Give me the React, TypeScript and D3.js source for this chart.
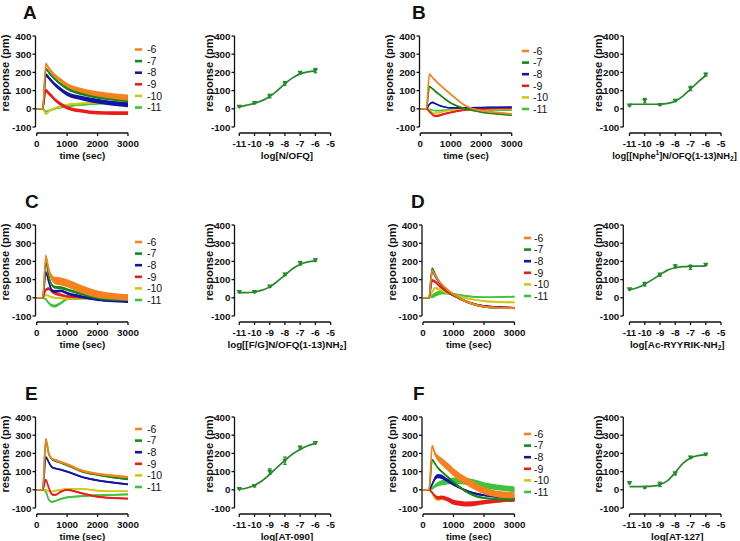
import React from "react";
import * as d3 from "d3";

// ---------- shared data ----------
const TIMES = [0, 200, 300, 400, 500, 600, 800, 1000, 1500, 2000, 2500, 3000];
const CONCS = ["-6", "-7", "-8", "-9", "-10", "-11"];
const SERIES_COLORS = ["#F5821F", "#168A16", "#1414A8", "#EC1C1C", "#D2C814", "#3CC43C"];
const Y_TICKS = [-100, 0, 100, 200, 300, 400];
const TIME_TICKS = [0, 1000, 2000, 3000];
const LOG_TICKS = [-11, -10, -9, -8, -7, -6, -5];
const DOSE_X = [-11, -10, -9, -8, -7, -6];
const FIT_X = [-11, -10.5, -10, -9.5, -9, -8.5, -8, -7.5, -7, -6.5, -6];

// ---------- panel A (N/OFQ) ----------
const A_MEAN = [
  [0, 0, 245, 222, 200, 182, 155, 130, 100, 82, 70, 62],
  [0, 0, 218, 200, 180, 163, 135, 112, 82, 64, 53, 46],
  [0, 0, 185, 170, 150, 133, 105, 82, 58, 42, 30, 22],
  [0, 0, 100, 85, 68, 50, 25, 6, -12, -22, -24, -24],
  [0, 0, -28, -14, -4, 4, 14, 22, 30, 35, 38, 40],
  [0, 0, -15, -10, -5, 0, 7, 13, 22, 28, 32, 35],
];
const A_SEM = [
  [1, 1, 10, 10, 10, 10, 11, 12, 13, 14, 15, 16],
  [1, 1, 8, 8, 8, 8, 8, 9, 9, 9, 9, 9],
  [1, 1, 10, 10, 10, 10, 11, 12, 12, 13, 13, 14],
  [1, 1, 10, 10, 10, 10, 10, 10, 10, 10, 10, 10],
  [1, 1, 6, 6, 6, 5, 5, 5, 5, 5, 5, 5],
  [1, 1, 4, 4, 4, 4, 4, 4, 4, 4, 4, 4],
];
const A_FIT = [12, 20, 30, 45, 68, 100, 138, 170, 192, 203, 208];
const A_PTS = [12, 33, 70, 140, 198, 210];
const A_ERR = [3, 6, 10, 10, 6, 12];

// ---------- panel B ([Nphe1]N/OFQ(1-13)NH2) ----------
const B_MEAN = [
  [0, 0, 190, 172, 155, 138, 108, 80, 15, -10, -20, -28],
  [0, 0, 122, 110, 95, 82, 55, 32, 0, -18, -28, -35],
  [0, 0, 25, 35, 28, 20, 10, 5, 5, 7, 8, 9],
  [0, 0, -15, -32, -40, -38, -28, -20, -6, 0, 2, 2],
  [0, 0, -8, -22, -25, -22, -14, -8, -2, 0, 0, 0],
  [0, 0, -3, -8, -10, -10, -8, -6, -4, -5, -6, -7],
];
const B_SEM = [
  [0.5, 0.5, 3, 3, 3, 3, 3, 3, 3, 3, 3, 3],
  [0.5, 0.5, 3, 3, 3, 3, 3, 3, 3, 3, 3, 3],
  [0.5, 0.5, 3, 4, 3, 3, 3, 3, 3, 3, 3, 3],
  [0.5, 0.5, 4, 5, 6, 6, 5, 4, 3, 3, 3, 3],
  [0.5, 0.5, 3, 4, 4, 3, 3, 3, 3, 3, 3, 3],
  [0.5, 0.5, 3, 3, 3, 3, 3, 3, 3, 3, 3, 3],
];
const B_FIT = [25, 25, 25, 25, 26, 30, 42, 70, 108, 148, 183];
const B_PTS = [18, 45, 22, 45, 112, 188];
const B_ERR = [3, 12, 3, 5, 12, 8];

// ---------- panel C ([F/G]N/OFQ(1-13)NH2) ----------
const C_MEAN = [
  [0, 0, 228, 150, 110, 95, 90, 80, 45, 20, 8, 2],
  [0, 0, 195, 115, 70, 58, 55, 45, 20, 0, -8, -10],
  [0, 0, 140, 85, 40, 35, 38, 25, 5, -10, -17, -20],
  [0, 0, 45, 50, 35, 25, 15, 8, 2, 3, 8, 12],
  [0, 0, 15, 10, 3, 0, -3, -4, -3, -2, -2, -2],
  [0, 0, -8, -30, -42, -45, -28, -8, -4, -5, -5, -5],
];
const C_SEM = [
  [1, 1, 12, 16, 18, 20, 22, 22, 22, 20, 18, 18],
  [1, 1, 8, 8, 8, 8, 8, 8, 8, 8, 8, 8],
  [1, 1, 8, 8, 8, 8, 8, 8, 8, 8, 8, 8],
  [1, 1, 8, 8, 8, 8, 8, 6, 6, 6, 6, 6],
  [1, 1, 5, 5, 5, 5, 5, 5, 5, 5, 5, 5],
  [1, 1, 5, 7, 8, 8, 7, 5, 4, 4, 4, 4],
];
const C_FIT = [28, 28, 32, 42, 60, 90, 125, 160, 183, 197, 203];
const C_PTS = [33, 32, 62, 128, 190, 207];
const C_ERR = [5, 4, 5, 6, 10, 6];

// ---------- panel D (Ac-RYYRIK-NH2) ----------
const D_MEAN = [
  [0, 0, 150, 122, 97, 77, 45, 20, -25, -48, -55, -58],
  [0, 0, 162, 128, 98, 74, 40, 15, -28, -50, -55, -55],
  [0, 0, 148, 118, 92, 72, 42, 18, -25, -46, -52, -55],
  [0, 0, 95, 88, 72, 57, 32, 12, -25, -45, -52, -55],
  [0, 0, 30, 55, 48, 40, 27, 16, -5, -18, -23, -25],
  [0, 0, 8, 18, 25, 28, 26, 20, 8, 3, 4, 7],
];
const D_SEM = [
  [1, 1, 6, 6, 6, 6, 6, 6, 5, 5, 5, 5],
  [1, 1, 4, 4, 4, 4, 4, 4, 4, 4, 4, 4],
  [1, 1, 4, 4, 4, 4, 4, 4, 4, 4, 4, 4],
  [1, 1, 8, 8, 8, 8, 7, 6, 5, 5, 5, 5],
  [1, 1, 6, 6, 6, 6, 6, 6, 5, 5, 5, 5],
  [1, 1, 10, 12, 12, 10, 8, 6, 4, 4, 4, 4],
];
const D_FIT = [45, 55, 75, 100, 127, 152, 165, 171, 173, 174, 175];
const D_PTS = [47, 75, 127, 173, 168, 182];
const D_ERR = [4, 10, 8, 8, 12, 4];

// ---------- panel E (AT-090) ----------
const E_MEAN = [
  [0, 0, 280, 200, 172, 165, 152, 140, 105, 88, 78, 70],
  [0, 0, 268, 195, 168, 160, 148, 135, 100, 82, 68, 58],
  [0, 0, 180, 150, 125, 118, 110, 100, 70, 52, 40, 30],
  [0, 0, 55, 10, -25, -28, -10, 0, -20, -38, -45, -48],
  [0, 0, 0, -8, -10, -6, 0, 5, 5, -5, -8, -8],
  [0, 0, -10, -55, -66, -62, -50, -42, -35, -30, -28, -25],
];
const E_SEM = [
  [1, 1, 6, 6, 6, 6, 6, 6, 6, 6, 6, 6],
  [1, 1, 5, 5, 5, 5, 5, 5, 5, 5, 5, 5],
  [1, 1, 5, 5, 5, 5, 5, 5, 5, 5, 5, 5],
  [1, 1, 5, 5, 5, 5, 5, 5, 5, 5, 5, 5],
  [1, 1, 4, 4, 4, 4, 4, 4, 4, 4, 4, 4],
  [1, 1, 5, 5, 5, 5, 5, 5, 5, 5, 5, 5],
];
const E_FIT = [3, 10, 25, 50, 85, 125, 162, 197, 222, 242, 255];
const E_PTS = [5, 22, 100, 160, 232, 258];
const E_ERR = [3, 6, 15, 20, 8, 5];

// ---------- panel F (AT-127) ----------
const F_MEAN = [
  [0, 0, 240, 195, 172, 158, 128, 97, 40, -5, -25, -30],
  [0, 0, 165, 142, 118, 102, 72, 42, -18, -45, -52, -55],
  [0, 0, 30, 65, 75, 72, 52, 30, -10, -30, -40, -45],
  [0, 0, -15, -35, -45, -42, -52, -68, -78, -68, -60, -55],
  [0, 0, -20, -50, -56, -52, -55, -68, -85, -75, -65, -58],
  [0, 0, 8, 22, 32, 38, 45, 50, 45, 25, 12, 3],
];
const F_SEM = [
  [1, 1, 8, 14, 18, 20, 22, 22, 22, 20, 18, 18],
  [1, 1, 5, 5, 6, 6, 6, 6, 6, 6, 6, 6],
  [1, 1, 8, 12, 12, 12, 10, 8, 6, 6, 6, 6],
  [1, 1, 6, 8, 10, 10, 12, 14, 14, 12, 10, 10],
  [1, 1, 4, 4, 4, 4, 4, 4, 4, 4, 4, 4],
  [1, 1, 8, 10, 12, 14, 16, 18, 18, 17, 16, 15],
];
const F_FIT = [17, 17, 18, 20, 28, 50, 95, 145, 175, 188, 193];
const F_PTS = [38, 12, 30, 90, 178, 195];
const F_ERR = [5, 3, 12, 8, 5, 4];

// ---------- layout / style ----------
const FONT = "'Liberation Sans', Arial, Helvetica, sans-serif";
const INK = "#111";
const FIT_COLOR = "#23892A";
const ROW_Y = [36, 225, 417];
const LEFT = { timeAx: 35.5, timeX: [36.7, 128], doseAx: 234.5, doseX: [239.3, 330.6], legLine: [135, 142], legText: 147 };
const RIGHT = { timeAx: 422, timeX: [423, 514.5], doseAx: 623.3, doseX: [629.5, 721], legLine: [524, 531], legText: 534 };

const TICK_FS = 9.8;
const TITLE_FS = 9.8;

function YAxis({ ax, y }: { ax: number; y: d3.ScaleLinear<number, number> }) {
  return (
    <g>
      <line x1={ax} x2={ax} y1={y(400)} y2={y(-100)} stroke={INK} strokeWidth={1.3} />
      {Y_TICKS.map((t) => (
        <g key={t}>
          <line x1={ax - 3} x2={ax} y1={y(t)} y2={y(t)} stroke={INK} strokeWidth={1.3} />
          <text x={ax - 4} y={y(t)} dy="0.36em" textAnchor="end" fontSize={TICK_FS} fontWeight="bold" fill={INK}>
            {t}
          </text>
        </g>
      ))}
    </g>
  );
}

function XAxis({ x, ticks, yLine, dom }: { x: d3.ScaleLinear<number, number>; ticks: number[]; yLine: number; dom: number[] }) {
  return (
    <g>
      <line x1={x(dom[0])} x2={x(dom[1])} y1={yLine} y2={yLine} stroke={INK} strokeWidth={1.3} />
      {ticks.map((t) => (
        <g key={t}>
          <line x1={x(t)} x2={x(t)} y1={yLine} y2={yLine + 3} stroke={INK} strokeWidth={1.3} />
          <text x={x(t)} y={yLine + 13.5} textAnchor="middle" fontSize={TICK_FS} fontWeight="bold" fill={INK}>
            {t}
          </text>
        </g>
      ))}
    </g>
  );
}

function YLabel({ cx, cy }: { cx: number; cy: number }) {
  return (
    <text transform={`translate(${cx},${cy}) rotate(-90)`} textAnchor="middle" dy="0.35em" fontSize={11.2} fontWeight="bold" fill={INK}>
      response (pm)
    </text>
  );
}

type TP = {
  letter: string;
  letterX: number;
  y0: number;
  ax: number;
  xr: number[];
  means: number[][];
  sems: number[][];
  legLine: number[];
  legText: number;
  legTop: number;
};

function TimePanel(p: TP) {
  const x = d3.scaleLinear().domain([0, 3000]).range(p.xr);
  const y = d3.scaleLinear().domain([-100, 400]).range([p.y0 + 91, p.y0]);
  const order = [5, 4, 3, 2, 1, 0];
  return (
    <g>
      <text x={p.letterX} y={p.y0 - 17} fontSize={19} fontWeight="bold" fill={INK}>
        {p.letter}
      </text>
      {order.map((k) => {
        const m = p.means[k];
        const s = p.sems[k];
        const area = d3
          .area<number>()
          .x((_, i) => x(TIMES[i]))
          .y0((v, i) => y(v - s[i]))
          .y1((v, i) => y(v + s[i]))
          .curve(d3.curveMonotoneX);
        const line = d3
          .line<number>()
          .x((_, i) => x(TIMES[i]))
          .y((v) => y(v))
          .curve(d3.curveMonotoneX);
        return (
          <g key={k}>
            <path d={area(m) || ""} fill={SERIES_COLORS[k]} stroke="none" />
            <path d={line(m) || ""} fill="none" stroke={SERIES_COLORS[k]} strokeWidth={1.7} />
          </g>
        );
      })}
      <YAxis ax={p.ax} y={y} />
      <XAxis x={x} ticks={TIME_TICKS} yLine={p.y0 + 97} dom={[0, 3000]} />
      <text x={(p.xr[0] + p.xr[1]) / 2} y={p.y0 + 122.5} textAnchor="middle" fontSize={TITLE_FS} fontWeight="bold" fill={INK}>
        time (sec)
      </text>
      <YLabel cx={p.ax - 30} cy={p.y0 + 37} />
      {CONCS.map((c, i) => {
        const ly = p.legTop + i * 11.6;
        return (
          <g key={c}>
            <line x1={p.legLine[0]} x2={p.legLine[1]} y1={ly} y2={ly} stroke={SERIES_COLORS[i]} strokeWidth={2.6} />
            <text x={p.legText} y={ly} dy="0.36em" fontSize={10.5} fill={INK}>
              {c}
            </text>
          </g>
        );
      })}
    </g>
  );
}

type DP = {
  y0: number;
  ax: number;
  xr: number[];
  fit: number[];
  pts: number[];
  err: number[];
  label: React.ReactNode;
  labelX?: number;
  labelFs?: number;
};

function DosePanel(p: DP) {
  const x = d3.scaleLinear().domain([-11, -5]).range(p.xr);
  const y = d3.scaleLinear().domain([-100, 400]).range([p.y0 + 91, p.y0]);
  const line = d3
    .line<number>()
    .x((_, i) => x(FIT_X[i]))
    .y((v) => y(v))
    .curve(d3.curveMonotoneX);
  return (
    <g>
      <path d={line(p.fit) || ""} fill="none" stroke={FIT_COLOR} strokeWidth={1.7} />
      {p.pts.map((v, i) => {
        const cx = x(DOSE_X[i]);
        const cy = y(v);
        const e = p.err[i];
        return (
          <g key={i} stroke={FIT_COLOR} strokeWidth={1.2}>
            <line x1={cx} x2={cx} y1={y(v - e)} y2={y(v + e)} />
            <line x1={cx - 1.8} x2={cx + 1.8} y1={y(v - e)} y2={y(v - e)} />
            <line x1={cx - 1.8} x2={cx + 1.8} y1={y(v + e)} y2={y(v + e)} />
            <path d={`M${cx - 2.7},${cy - 1.9}L${cx + 2.7},${cy - 1.9}L${cx},${cy + 2.5}Z`} fill={FIT_COLOR} stroke="none" />
          </g>
        );
      })}
      <YAxis ax={p.ax} y={y} />
      <XAxis x={x} ticks={LOG_TICKS} yLine={p.y0 + 97} dom={[-11, -5]} />
      <text
        x={p.labelX ?? (p.xr[0] + p.xr[1]) / 2 + 2}
        y={p.y0 + 122.5}
        textAnchor="middle"
        fontSize={p.labelFs ?? TITLE_FS}
        fontWeight="bold"
        fill={INK}
      >
        {p.label}
      </text>
      <YLabel cx={p.ax - 25} cy={p.y0 + 37} />
    </g>
  );
}

const SMALL = 6.6;

export default function App() {
  return (
    <svg
      width={740}
      height={541}
      viewBox="0 0 740 541"
      style={{ position: "absolute", left: 0, top: 0, background: "#fff" }}
      fontFamily={FONT}
    >
      <rect x={0} y={0} width={740} height={541} fill="#fff" />
      {/* Row 1 */}
      <TimePanel letter="A" letterX={23} y0={ROW_Y[0]} ax={LEFT.timeAx} xr={LEFT.timeX} means={A_MEAN} sems={A_SEM} legLine={LEFT.legLine} legText={LEFT.legText} legTop={49.5} />
      <DosePanel y0={ROW_Y[0]} ax={LEFT.doseAx} xr={LEFT.doseX} fit={A_FIT} pts={A_PTS} err={A_ERR} label={<>log[N/OFQ]</>} />
      <TimePanel letter="B" letterX={412} y0={ROW_Y[0]} ax={419.5} xr={[420.3, 511.7]} means={B_MEAN} sems={B_SEM} legLine={[522, 529]} legText={533} legTop={51} />
      <DosePanel
        y0={ROW_Y[0]}
        ax={RIGHT.doseAx}
        xr={RIGHT.doseX}
        fit={B_FIT}
        pts={B_PTS}
        err={B_ERR}
        labelX={674.5}
        labelFs={9.3}
        label={
          <>
            <tspan>log[[Nphe</tspan>
            <tspan dy={-3.5} fontSize={SMALL}>1</tspan>
            <tspan dy={3.5}>]N/OFQ(1-13)NH</tspan>
            <tspan dy={2.5} fontSize={SMALL}>2</tspan>
            <tspan dy={-2.5}>]</tspan>
          </>
        }
      />
      {/* Row 2 */}
      <TimePanel letter="C" letterX={25} y0={ROW_Y[1]} ax={LEFT.timeAx} xr={LEFT.timeX} means={C_MEAN} sems={C_SEM} legLine={LEFT.legLine} legText={LEFT.legText} legTop={242} />
      <DosePanel
        y0={ROW_Y[1]}
        ax={LEFT.doseAx}
        xr={LEFT.doseX}
        fit={C_FIT}
        pts={C_PTS}
        err={C_ERR}
        label={
          <>
            <tspan>log[[F/G]N/OFQ(1-13)NH</tspan>
            <tspan dy={2.5} fontSize={SMALL}>2</tspan>
            <tspan dy={-2.5}>]</tspan>
          </>
        }
      />
      <TimePanel letter="D" letterX={411} y0={ROW_Y[1]} ax={RIGHT.timeAx} xr={RIGHT.timeX} means={D_MEAN} sems={D_SEM} legLine={RIGHT.legLine} legText={RIGHT.legText} legTop={238} />
      <DosePanel
        y0={ROW_Y[1]}
        ax={RIGHT.doseAx}
        xr={RIGHT.doseX}
        fit={D_FIT}
        pts={D_PTS}
        err={D_ERR}
        label={
          <>
            <tspan>log[Ac-RYYRIK-NH</tspan>
            <tspan dy={2.5} fontSize={SMALL}>2</tspan>
            <tspan dy={-2.5}>]</tspan>
          </>
        }
      />
      {/* Row 3 */}
      <TimePanel letter="E" letterX={25} y0={ROW_Y[2]} ax={LEFT.timeAx} xr={LEFT.timeX} means={E_MEAN} sems={E_SEM} legLine={LEFT.legLine} legText={LEFT.legText} legTop={429} />
      <DosePanel y0={ROW_Y[2]} ax={LEFT.doseAx} xr={LEFT.doseX} fit={E_FIT} pts={E_PTS} err={E_ERR} label={<>log[AT-090]</>} />
      <TimePanel letter="F" letterX={413} y0={ROW_Y[2]} ax={RIGHT.timeAx} xr={RIGHT.timeX} means={F_MEAN} sems={F_SEM} legLine={RIGHT.legLine} legText={RIGHT.legText} legTop={434} />
      <DosePanel y0={ROW_Y[2]} ax={RIGHT.doseAx} xr={RIGHT.doseX} fit={F_FIT} pts={F_PTS} err={F_ERR} label={<>log[AT-127]</>} />
    </svg>
  );
}
